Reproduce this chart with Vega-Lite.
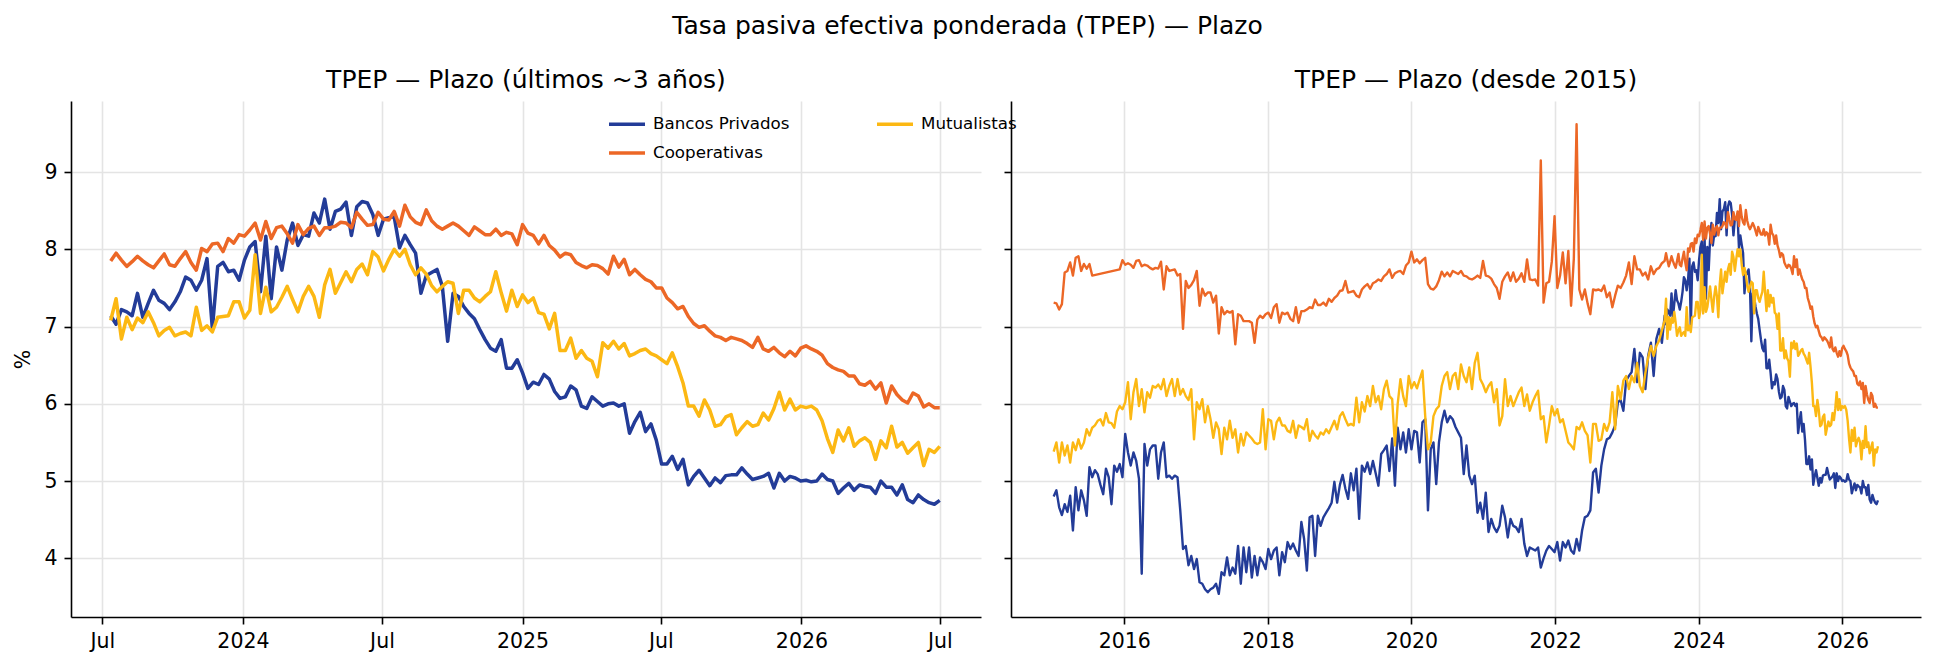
{
  "$schema": "https://vega.github.io/schema/vega-lite/v6.json",
  "description": "Tasa pasiva efectiva ponderada (TPEP) a plazo por tipo de entidad: últimos ~3 años y serie desde 2015.",
  "padding": {"left": 13, "top": 14, "right": 13, "bottom": 10},
  "background": "white",
  "title": {
    "text": "Tasa pasiva efectiva ponderada (TPEP) — Plazo",
    "anchor": "middle",
    "frame": "bounds",
    "offset": 29
  },
  "datasets": {
    "tpep": [
      {"fecha": "2015-01-07", "bp": 4.80, "co": 7.31, "mu": 5.38},
      {"fecha": "2015-01-21", "bp": 4.88, "co": 7.30, "mu": 5.50},
      {"fecha": "2015-02-04", "bp": 4.66, "co": 7.22, "mu": 5.24},
      {"fecha": "2015-02-18", "bp": 4.56, "co": 7.29, "mu": 5.50},
      {"fecha": "2015-03-04", "bp": 4.70, "co": 7.70, "mu": 5.33},
      {"fecha": "2015-03-18", "bp": 4.60, "co": 7.72, "mu": 5.46},
      {"fecha": "2015-04-01", "bp": 4.81, "co": 7.83, "mu": 5.24},
      {"fecha": "2015-04-15", "bp": 4.36, "co": 7.66, "mu": 5.50},
      {"fecha": "2015-04-29", "bp": 4.92, "co": 7.89, "mu": 5.40},
      {"fecha": "2015-05-13", "bp": 4.62, "co": 7.91, "mu": 5.54},
      {"fecha": "2015-05-27", "bp": 4.88, "co": 7.72, "mu": 5.42},
      {"fecha": "2015-06-10", "bp": 4.75, "co": 7.81, "mu": 5.50},
      {"fecha": "2015-06-24", "bp": 4.55, "co": 7.75, "mu": 5.67},
      {"fecha": "2015-07-08", "bp": 5.18, "co": 7.81, "mu": 5.59},
      {"fecha": "2015-07-22", "bp": 5.05, "co": 7.66, "mu": 5.69},
      {"fecha": "2015-08-05", "bp": 5.14, "co": null, "mu": 5.72},
      {"fecha": "2015-08-19", "bp": 5.09, "co": null, "mu": 5.78},
      {"fecha": "2015-09-02", "bp": 4.95, "co": null, "mu": 5.80},
      {"fecha": "2015-09-16", "bp": 4.83, "co": null, "mu": 5.72},
      {"fecha": "2015-09-30", "bp": 5.16, "co": null, "mu": 5.88},
      {"fecha": "2015-10-14", "bp": 5.05, "co": null, "mu": 5.76},
      {"fecha": "2015-10-28", "bp": 4.70, "co": null, "mu": 5.75},
      {"fecha": "2015-11-11", "bp": 5.20, "co": null, "mu": 5.69},
      {"fecha": "2015-11-25", "bp": 5.12, "co": null, "mu": 5.90},
      {"fecha": "2015-12-09", "bp": 5.22, "co": 7.74, "mu": 5.97},
      {"fecha": "2015-12-23", "bp": 5.05, "co": 7.86, "mu": 5.93},
      {"fecha": "2016-01-06", "bp": 5.61, "co": 7.80, "mu": 6.02},
      {"fecha": "2016-01-20", "bp": 5.37, "co": 7.82, "mu": 6.28},
      {"fecha": "2016-02-03", "bp": 5.20, "co": 7.80, "mu": 5.80},
      {"fecha": "2016-02-17", "bp": 5.37, "co": 7.76, "mu": 6.15},
      {"fecha": "2016-03-02", "bp": 5.26, "co": 7.85, "mu": 6.32},
      {"fecha": "2016-03-16", "bp": 5.03, "co": 7.86, "mu": 5.97},
      {"fecha": "2016-03-30", "bp": 3.80, "co": 7.78, "mu": 6.19},
      {"fecha": "2016-04-13", "bp": 5.48, "co": 7.80, "mu": 5.89},
      {"fecha": "2016-04-27", "bp": 5.20, "co": 7.79, "mu": 6.15},
      {"fecha": "2016-05-11", "bp": 5.41, "co": 7.76, "mu": 6.08},
      {"fecha": "2016-05-25", "bp": 5.46, "co": 7.74, "mu": 6.23},
      {"fecha": "2016-06-08", "bp": 5.46, "co": 7.76, "mu": 6.21},
      {"fecha": "2016-06-22", "bp": 5.03, "co": 7.75, "mu": 6.25},
      {"fecha": "2016-07-06", "bp": 5.37, "co": 7.84, "mu": 6.19},
      {"fecha": "2016-07-20", "bp": 5.50, "co": 7.48, "mu": 6.32},
      {"fecha": "2016-08-03", "bp": 5.05, "co": 7.78, "mu": 6.10},
      {"fecha": "2016-08-17", "bp": 5.07, "co": 7.72, "mu": 6.23},
      {"fecha": "2016-08-31", "bp": 5.03, "co": 7.73, "mu": 6.32},
      {"fecha": "2016-09-14", "bp": 5.07, "co": 7.74, "mu": 6.10},
      {"fecha": "2016-09-28", "bp": 5.05, "co": 7.66, "mu": 6.32},
      {"fecha": "2016-10-12", "bp": 4.62, "co": 7.68, "mu": 6.12},
      {"fecha": "2016-10-26", "bp": 4.12, "co": 6.97, "mu": 6.19},
      {"fecha": "2016-11-09", "bp": 4.16, "co": 7.59, "mu": 6.10},
      {"fecha": "2016-11-23", "bp": 3.91, "co": 7.50, "mu": 6.05},
      {"fecha": "2016-12-07", "bp": 4.03, "co": 7.54, "mu": 6.19},
      {"fecha": "2016-12-21", "bp": 3.86, "co": 7.60, "mu": 5.54},
      {"fecha": "2017-01-04", "bp": 3.99, "co": 7.72, "mu": 6.02},
      {"fecha": "2017-01-18", "bp": 3.69, "co": 7.27, "mu": 5.93},
      {"fecha": "2017-02-01", "bp": 3.67, "co": 7.49, "mu": 6.06},
      {"fecha": "2017-02-15", "bp": 3.60, "co": 7.40, "mu": 5.76},
      {"fecha": "2017-03-01", "bp": 3.56, "co": 7.44, "mu": 5.97},
      {"fecha": "2017-03-15", "bp": 3.60, "co": 7.44, "mu": 5.80},
      {"fecha": "2017-03-29", "bp": 3.62, "co": 7.31, "mu": 5.56},
      {"fecha": "2017-04-12", "bp": 3.67, "co": 7.40, "mu": 5.76},
      {"fecha": "2017-04-26", "bp": 3.54, "co": 6.91, "mu": 5.67},
      {"fecha": "2017-05-10", "bp": 3.82, "co": 7.25, "mu": 5.35},
      {"fecha": "2017-05-24", "bp": 3.78, "co": 7.16, "mu": 5.69},
      {"fecha": "2017-06-07", "bp": 4.01, "co": 7.20, "mu": 5.54},
      {"fecha": "2017-06-21", "bp": 3.78, "co": 7.18, "mu": 5.78},
      {"fecha": "2017-07-05", "bp": 3.88, "co": 7.20, "mu": 5.56},
      {"fecha": "2017-07-19", "bp": 3.80, "co": 6.77, "mu": 5.67},
      {"fecha": "2017-08-02", "bp": 4.16, "co": 7.16, "mu": 5.37},
      {"fecha": "2017-08-16", "bp": 3.67, "co": 7.14, "mu": 5.61},
      {"fecha": "2017-08-30", "bp": 4.14, "co": 7.07, "mu": 5.46},
      {"fecha": "2017-09-13", "bp": 3.82, "co": 7.07, "mu": 5.63},
      {"fecha": "2017-09-27", "bp": 4.14, "co": 7.07, "mu": 5.59},
      {"fecha": "2017-10-11", "bp": 3.75, "co": 7.05, "mu": 5.55},
      {"fecha": "2017-10-25", "bp": 4.03, "co": 6.79, "mu": 5.50},
      {"fecha": "2017-11-08", "bp": 3.78, "co": 7.09, "mu": 5.48},
      {"fecha": "2017-11-22", "bp": 4.01, "co": 7.14, "mu": 5.50},
      {"fecha": "2017-12-06", "bp": 3.95, "co": 7.11, "mu": 5.93},
      {"fecha": "2017-12-20", "bp": 3.86, "co": 7.16, "mu": 5.41},
      {"fecha": "2018-01-03", "bp": 4.12, "co": 7.18, "mu": 5.80},
      {"fecha": "2018-01-17", "bp": 3.99, "co": 7.11, "mu": 5.78},
      {"fecha": "2018-01-31", "bp": 4.10, "co": 7.25, "mu": 5.54},
      {"fecha": "2018-02-14", "bp": 4.14, "co": 7.29, "mu": 5.76},
      {"fecha": "2018-02-28", "bp": 3.78, "co": 7.05, "mu": 5.82},
      {"fecha": "2018-03-14", "bp": 4.08, "co": 7.18, "mu": 5.72},
      {"fecha": "2018-03-28", "bp": 3.95, "co": 7.16, "mu": 5.72},
      {"fecha": "2018-04-11", "bp": 4.21, "co": 7.18, "mu": 5.65},
      {"fecha": "2018-04-25", "bp": 4.12, "co": 7.10, "mu": 5.63},
      {"fecha": "2018-05-09", "bp": 4.19, "co": 7.07, "mu": 5.78},
      {"fecha": "2018-05-23", "bp": 4.10, "co": 7.25, "mu": 5.56},
      {"fecha": "2018-06-06", "bp": 4.03, "co": 7.05, "mu": 5.72},
      {"fecha": "2018-06-20", "bp": 4.47, "co": 7.20, "mu": 5.70},
      {"fecha": "2018-07-04", "bp": 4.25, "co": 7.20, "mu": 5.67},
      {"fecha": "2018-07-18", "bp": 3.84, "co": 7.22, "mu": 5.80},
      {"fecha": "2018-08-01", "bp": 4.53, "co": 7.25, "mu": 5.52},
      {"fecha": "2018-08-15", "bp": 4.55, "co": 7.24, "mu": 5.65},
      {"fecha": "2018-08-29", "bp": 4.03, "co": 7.35, "mu": 5.59},
      {"fecha": "2018-09-12", "bp": 4.55, "co": 7.28, "mu": 5.55},
      {"fecha": "2018-09-26", "bp": 4.42, "co": 7.28, "mu": 5.63},
      {"fecha": "2018-10-10", "bp": 4.53, "co": 7.31, "mu": 5.60},
      {"fecha": "2018-10-24", "bp": 4.59, "co": 7.27, "mu": 5.67},
      {"fecha": "2018-11-07", "bp": 4.65, "co": 7.36, "mu": 5.62},
      {"fecha": "2018-11-21", "bp": 4.72, "co": 7.32, "mu": 5.70},
      {"fecha": "2018-12-05", "bp": 4.99, "co": 7.37, "mu": 5.78},
      {"fecha": "2018-12-19", "bp": 4.72, "co": 7.40, "mu": 5.67},
      {"fecha": "2019-01-02", "bp": 4.95, "co": 7.46, "mu": 5.84},
      {"fecha": "2019-01-16", "bp": 5.08, "co": 7.47, "mu": 5.89},
      {"fecha": "2019-01-30", "bp": 4.90, "co": 7.59, "mu": 5.80},
      {"fecha": "2019-02-13", "bp": 4.77, "co": 7.44, "mu": 5.72},
      {"fecha": "2019-02-27", "bp": 5.10, "co": 7.45, "mu": 5.74},
      {"fecha": "2019-03-13", "bp": 4.88, "co": 7.46, "mu": 5.72},
      {"fecha": "2019-03-27", "bp": 5.16, "co": 7.40, "mu": 6.08},
      {"fecha": "2019-04-10", "bp": 4.51, "co": 7.38, "mu": 5.76},
      {"fecha": "2019-04-24", "bp": 5.20, "co": 7.48, "mu": 6.02},
      {"fecha": "2019-05-08", "bp": 5.12, "co": 7.52, "mu": 5.90},
      {"fecha": "2019-05-22", "bp": 5.24, "co": 7.55, "mu": 6.10},
      {"fecha": "2019-06-05", "bp": 5.09, "co": 7.49, "mu": 5.97},
      {"fecha": "2019-06-19", "bp": 5.26, "co": 7.56, "mu": 6.23},
      {"fecha": "2019-07-03", "bp": 5.10, "co": 7.58, "mu": 6.02},
      {"fecha": "2019-07-17", "bp": 4.94, "co": 7.61, "mu": 6.10},
      {"fecha": "2019-07-31", "bp": 5.35, "co": 7.59, "mu": 5.93},
      {"fecha": "2019-08-14", "bp": 5.40, "co": 7.65, "mu": 6.19},
      {"fecha": "2019-08-28", "bp": 5.46, "co": 7.68, "mu": 6.30},
      {"fecha": "2019-09-11", "bp": 5.13, "co": 7.74, "mu": 6.10},
      {"fecha": "2019-09-25", "bp": 5.55, "co": 7.63, "mu": 6.06},
      {"fecha": "2019-10-09", "bp": 4.94, "co": 7.69, "mu": 5.46},
      {"fecha": "2019-10-23", "bp": 5.69, "co": 7.71, "mu": 6.00},
      {"fecha": "2019-11-06", "bp": 5.41, "co": 7.72, "mu": 6.32},
      {"fecha": "2019-11-20", "bp": 5.63, "co": 7.68, "mu": 6.10},
      {"fecha": "2019-12-04", "bp": 5.37, "co": 7.79, "mu": 5.97},
      {"fecha": "2019-12-18", "bp": 5.67, "co": 7.83, "mu": 6.36},
      {"fecha": "2020-01-01", "bp": 5.41, "co": 7.97, "mu": 6.20},
      {"fecha": "2020-01-15", "bp": 5.65, "co": 7.83, "mu": 6.28},
      {"fecha": "2020-01-29", "bp": 5.63, "co": 7.87, "mu": 6.20},
      {"fecha": "2020-02-12", "bp": 5.24, "co": 7.82, "mu": 6.32},
      {"fecha": "2020-02-26", "bp": 5.76, "co": 7.86, "mu": 6.43},
      {"fecha": "2020-03-11", "bp": 5.80, "co": 7.89, "mu": 5.84},
      {"fecha": "2020-03-25", "bp": 4.62, "co": 7.55, "mu": 5.41},
      {"fecha": "2020-04-08", "bp": 5.41, "co": 7.49, "mu": 5.50},
      {"fecha": "2020-04-22", "bp": 5.50, "co": 7.48, "mu": 5.84},
      {"fecha": "2020-05-06", "bp": 4.96, "co": 7.52, "mu": 5.93},
      {"fecha": "2020-05-20", "bp": 5.50, "co": 7.60, "mu": 5.97},
      {"fecha": "2020-06-03", "bp": 5.76, "co": 7.71, "mu": 6.23},
      {"fecha": "2020-06-17", "bp": 5.91, "co": 7.65, "mu": 6.36},
      {"fecha": "2020-07-01", "bp": 5.76, "co": 7.70, "mu": 6.41},
      {"fecha": "2020-07-15", "bp": 5.84, "co": 7.65, "mu": 6.19},
      {"fecha": "2020-07-29", "bp": 5.80, "co": 7.72, "mu": 6.36},
      {"fecha": "2020-08-12", "bp": 5.70, "co": 7.70, "mu": 6.40},
      {"fecha": "2020-08-26", "bp": 5.63, "co": 7.68, "mu": 6.19},
      {"fecha": "2020-09-09", "bp": 5.56, "co": 7.72, "mu": 6.51},
      {"fecha": "2020-09-23", "bp": 5.09, "co": 7.66, "mu": 6.36},
      {"fecha": "2020-10-07", "bp": 5.46, "co": 7.65, "mu": 6.28},
      {"fecha": "2020-10-21", "bp": 5.07, "co": 7.62, "mu": 6.47},
      {"fecha": "2020-11-04", "bp": 4.96, "co": 7.61, "mu": 6.19},
      {"fecha": "2020-11-18", "bp": 5.07, "co": 7.63, "mu": 6.53},
      {"fecha": "2020-12-02", "bp": 4.59, "co": 7.66, "mu": 6.66},
      {"fecha": "2020-12-16", "bp": 4.72, "co": 7.63, "mu": 6.32},
      {"fecha": "2020-12-30", "bp": 4.51, "co": 7.85, "mu": 6.25},
      {"fecha": "2021-01-13", "bp": 4.85, "co": 7.66, "mu": 6.15},
      {"fecha": "2021-01-27", "bp": 4.34, "co": 7.65, "mu": 6.23},
      {"fecha": "2021-02-10", "bp": 4.51, "co": 7.62, "mu": 6.28},
      {"fecha": "2021-02-24", "bp": 4.40, "co": 7.55, "mu": 6.02},
      {"fecha": "2021-03-10", "bp": 4.34, "co": 7.50, "mu": 6.19},
      {"fecha": "2021-03-24", "bp": 4.42, "co": 7.36, "mu": 5.72},
      {"fecha": "2021-04-07", "bp": 4.68, "co": 7.58, "mu": 5.84},
      {"fecha": "2021-04-21", "bp": 4.53, "co": 7.65, "mu": 6.32},
      {"fecha": "2021-05-05", "bp": 4.27, "co": 7.70, "mu": 5.97},
      {"fecha": "2021-05-19", "bp": 4.51, "co": 7.59, "mu": 6.10},
      {"fecha": "2021-06-02", "bp": 4.42, "co": 7.70, "mu": 5.97},
      {"fecha": "2021-06-16", "bp": 4.40, "co": 7.58, "mu": 6.06},
      {"fecha": "2021-06-30", "bp": 4.34, "co": 7.62, "mu": 6.15},
      {"fecha": "2021-07-14", "bp": 4.51, "co": 7.69, "mu": 6.21},
      {"fecha": "2021-07-28", "bp": 4.19, "co": 7.58, "mu": 5.97},
      {"fecha": "2021-08-11", "bp": 4.03, "co": 7.87, "mu": 6.12},
      {"fecha": "2021-08-25", "bp": 4.14, "co": 7.61, "mu": 5.91},
      {"fecha": "2021-09-08", "bp": 4.12, "co": 7.60, "mu": 6.02},
      {"fecha": "2021-09-22", "bp": 4.10, "co": 7.61, "mu": 6.10},
      {"fecha": "2021-10-06", "bp": 4.14, "co": 7.53, "mu": 6.17},
      {"fecha": "2021-10-20", "bp": 3.88, "co": 9.15, "mu": 5.80},
      {"fecha": "2021-11-03", "bp": 4.00, "co": 7.31, "mu": 5.84},
      {"fecha": "2021-11-17", "bp": 4.10, "co": 7.56, "mu": 5.50},
      {"fecha": "2021-12-01", "bp": 4.16, "co": 7.58, "mu": 5.72},
      {"fecha": "2021-12-15", "bp": 4.12, "co": 7.84, "mu": 5.97},
      {"fecha": "2021-12-29", "bp": 4.08, "co": 8.43, "mu": 5.85},
      {"fecha": "2022-01-12", "bp": 4.21, "co": 7.50, "mu": 5.93},
      {"fecha": "2022-01-26", "bp": 3.97, "co": 7.66, "mu": 5.76},
      {"fecha": "2022-02-09", "bp": 4.21, "co": 7.96, "mu": 5.80},
      {"fecha": "2022-02-23", "bp": 4.14, "co": 7.56, "mu": 5.65},
      {"fecha": "2022-03-09", "bp": 4.23, "co": 7.98, "mu": 5.50},
      {"fecha": "2022-03-23", "bp": 4.10, "co": 7.27, "mu": 5.46},
      {"fecha": "2022-04-06", "bp": 4.06, "co": 7.88, "mu": 5.41},
      {"fecha": "2022-04-20", "bp": 4.25, "co": 9.62, "mu": 5.70},
      {"fecha": "2022-05-04", "bp": 4.10, "co": 7.48, "mu": 5.67},
      {"fecha": "2022-05-18", "bp": 4.36, "co": 7.35, "mu": 5.76},
      {"fecha": "2022-06-01", "bp": 4.53, "co": 7.48, "mu": 5.65},
      {"fecha": "2022-06-15", "bp": 4.55, "co": 7.30, "mu": 5.59},
      {"fecha": "2022-06-29", "bp": 4.62, "co": 7.16, "mu": 5.24},
      {"fecha": "2022-07-13", "bp": 5.11, "co": 7.48, "mu": 5.74},
      {"fecha": "2022-07-27", "bp": 5.16, "co": 7.47, "mu": 5.74},
      {"fecha": "2022-08-10", "bp": 4.85, "co": 7.48, "mu": 5.52},
      {"fecha": "2022-08-24", "bp": 5.20, "co": 7.46, "mu": 5.54},
      {"fecha": "2022-09-07", "bp": 5.41, "co": 7.53, "mu": 5.74},
      {"fecha": "2022-09-21", "bp": 5.54, "co": 7.38, "mu": 5.65},
      {"fecha": "2022-10-05", "bp": 5.56, "co": 7.44, "mu": 5.76},
      {"fecha": "2022-10-19", "bp": 5.63, "co": 7.25, "mu": 6.15},
      {"fecha": "2022-11-02", "bp": 5.72, "co": 7.40, "mu": 5.67},
      {"fecha": "2022-11-16", "bp": 6.02, "co": 7.53, "mu": 6.23},
      {"fecha": "2022-11-30", "bp": 6.05, "co": 7.50, "mu": 6.06},
      {"fecha": "2022-12-14", "bp": 5.91, "co": 7.57, "mu": 6.30},
      {"fecha": "2022-12-28", "bp": 6.30, "co": 7.66, "mu": 6.36},
      {"fecha": "2023-01-11", "bp": 6.36, "co": 7.83, "mu": 6.19},
      {"fecha": "2023-01-25", "bp": 6.41, "co": 7.55, "mu": 6.36},
      {"fecha": "2023-02-08", "bp": 6.71, "co": 7.91, "mu": 6.28},
      {"fecha": "2023-02-22", "bp": 6.28, "co": 7.74, "mu": 6.53},
      {"fecha": "2023-03-08", "bp": 6.66, "co": 7.74, "mu": 6.23},
      {"fecha": "2023-03-22", "bp": 6.60, "co": 7.66, "mu": 6.15},
      {"fecha": "2023-04-05", "bp": 6.19, "co": 7.70, "mu": 6.40},
      {"fecha": "2023-04-19", "bp": 6.62, "co": 7.61, "mu": 6.60},
      {"fecha": "2023-05-03", "bp": 6.79, "co": 7.78, "mu": 6.75},
      {"fecha": "2023-05-17", "bp": 6.36, "co": 7.68, "mu": 6.62},
      {"fecha": "2023-05-31", "bp": 6.84, "co": 7.74, "mu": 6.75},
      {"fecha": "2023-06-14", "bp": 6.97, "co": 7.76, "mu": 6.82},
      {"fecha": "2023-06-28", "bp": 6.79, "co": 7.82, "mu": 6.95},
      {"fecha": "2023-07-12", "bp": 7.14, "co": 7.85, "mu": 7.08},
      {"fecha": "2023-07-19", "bp": 7.03, "co": 7.95, "mu": 7.36},
      {"fecha": "2023-07-26", "bp": 7.22, "co": 7.86, "mu": 6.84},
      {"fecha": "2023-08-02", "bp": 7.19, "co": 7.78, "mu": 7.12},
      {"fecha": "2023-08-09", "bp": 7.14, "co": 7.84, "mu": 6.96},
      {"fecha": "2023-08-16", "bp": 7.43, "co": 7.91, "mu": 7.11},
      {"fecha": "2023-08-23", "bp": 7.12, "co": 7.85, "mu": 7.05},
      {"fecha": "2023-08-30", "bp": 7.30, "co": 7.80, "mu": 7.19},
      {"fecha": "2023-09-06", "bp": 7.47, "co": 7.76, "mu": 7.05},
      {"fecha": "2023-09-13", "bp": 7.34, "co": 7.85, "mu": 6.88},
      {"fecha": "2023-09-20", "bp": 7.30, "co": 7.94, "mu": 6.95},
      {"fecha": "2023-09-27", "bp": 7.22, "co": 7.80, "mu": 6.99},
      {"fecha": "2023-10-04", "bp": 7.32, "co": 7.78, "mu": 6.88},
      {"fecha": "2023-10-11", "bp": 7.45, "co": 7.88, "mu": 6.91},
      {"fecha": "2023-10-18", "bp": 7.64, "co": 7.97, "mu": 6.93},
      {"fecha": "2023-10-25", "bp": 7.60, "co": 7.83, "mu": 6.88},
      {"fecha": "2023-11-01", "bp": 7.47, "co": 7.73, "mu": 7.25},
      {"fecha": "2023-11-08", "bp": 7.60, "co": 8.01, "mu": 6.95},
      {"fecha": "2023-11-15", "bp": 7.88, "co": 7.97, "mu": 7.01},
      {"fecha": "2023-11-22", "bp": 6.97, "co": 8.07, "mu": 6.93},
      {"fecha": "2023-11-29", "bp": 7.78, "co": 8.08, "mu": 7.12},
      {"fecha": "2023-12-06", "bp": 7.83, "co": 7.97, "mu": 7.13},
      {"fecha": "2023-12-13", "bp": 7.71, "co": 8.14, "mu": 7.14},
      {"fecha": "2023-12-20", "bp": 7.73, "co": 8.08, "mu": 7.32},
      {"fecha": "2023-12-27", "bp": 7.60, "co": 8.19, "mu": 7.32},
      {"fecha": "2024-01-03", "bp": 7.86, "co": 8.17, "mu": 7.11},
      {"fecha": "2024-01-10", "bp": 8.03, "co": 8.25, "mu": 7.21},
      {"fecha": "2024-01-17", "bp": 8.10, "co": 8.34, "mu": 7.93},
      {"fecha": "2024-01-24", "bp": 7.45, "co": 8.12, "mu": 7.17},
      {"fecha": "2024-01-31", "bp": 8.17, "co": 8.36, "mu": 7.51},
      {"fecha": "2024-02-07", "bp": 7.36, "co": 8.14, "mu": 7.19},
      {"fecha": "2024-02-14", "bp": 8.03, "co": 8.28, "mu": 7.25},
      {"fecha": "2024-02-21", "bp": 7.73, "co": 8.30, "mu": 7.38},
      {"fecha": "2024-02-28", "bp": 8.12, "co": 8.20, "mu": 7.52},
      {"fecha": "2024-03-06", "bp": 8.34, "co": 8.08, "mu": 7.35},
      {"fecha": "2024-03-13", "bp": 8.05, "co": 8.32, "mu": 7.19},
      {"fecha": "2024-03-20", "bp": 8.19, "co": 8.19, "mu": 7.39},
      {"fecha": "2024-03-27", "bp": 8.17, "co": 8.27, "mu": 7.52},
      {"fecha": "2024-04-03", "bp": 8.47, "co": 8.30, "mu": 7.39},
      {"fecha": "2024-04-10", "bp": 8.34, "co": 8.18, "mu": 7.12},
      {"fecha": "2024-04-17", "bp": 8.65, "co": 8.28, "mu": 7.54},
      {"fecha": "2024-04-24", "bp": 8.26, "co": 8.28, "mu": 7.74},
      {"fecha": "2024-05-01", "bp": 8.49, "co": 8.30, "mu": 7.43},
      {"fecha": "2024-05-08", "bp": 8.52, "co": 8.35, "mu": 7.57},
      {"fecha": "2024-05-15", "bp": 8.61, "co": 8.34, "mu": 7.71},
      {"fecha": "2024-05-22", "bp": 8.18, "co": 8.28, "mu": 7.58},
      {"fecha": "2024-05-29", "bp": 8.55, "co": 8.48, "mu": 7.74},
      {"fecha": "2024-06-05", "bp": 8.62, "co": 8.39, "mu": 7.81},
      {"fecha": "2024-06-12", "bp": 8.60, "co": 8.31, "mu": 7.67},
      {"fecha": "2024-06-19", "bp": 8.45, "co": 8.32, "mu": 7.97},
      {"fecha": "2024-06-26", "bp": 8.18, "co": 8.48, "mu": 7.90},
      {"fecha": "2024-07-03", "bp": 8.39, "co": 8.39, "mu": 7.72},
      {"fecha": "2024-07-10", "bp": 8.41, "co": 8.38, "mu": 7.87},
      {"fecha": "2024-07-17", "bp": 8.42, "co": 8.49, "mu": 8.00},
      {"fecha": "2024-07-24", "bp": 8.02, "co": 8.30, "mu": 7.91},
      {"fecha": "2024-07-31", "bp": 8.18, "co": 8.57, "mu": 8.00},
      {"fecha": "2024-08-07", "bp": 8.06, "co": 8.42, "mu": 7.80},
      {"fecha": "2024-08-14", "bp": 7.95, "co": 8.35, "mu": 7.67},
      {"fecha": "2024-08-21", "bp": 7.43, "co": 8.32, "mu": 7.76},
      {"fecha": "2024-08-28", "bp": 7.66, "co": 8.51, "mu": 7.68},
      {"fecha": "2024-09-04", "bp": 7.70, "co": 8.37, "mu": 7.53},
      {"fecha": "2024-09-11", "bp": 7.74, "co": 8.30, "mu": 7.45},
      {"fecha": "2024-09-18", "bp": 7.52, "co": 8.26, "mu": 7.52},
      {"fecha": "2024-09-25", "bp": 6.81, "co": 8.30, "mu": 7.58},
      {"fecha": "2024-10-02", "bp": 7.43, "co": 8.34, "mu": 7.56},
      {"fecha": "2024-10-09", "bp": 7.39, "co": 8.30, "mu": 7.17},
      {"fecha": "2024-10-16", "bp": 7.26, "co": 8.24, "mu": 7.47},
      {"fecha": "2024-10-23", "bp": 7.17, "co": 8.18, "mu": 7.47},
      {"fecha": "2024-10-30", "bp": 7.10, "co": 8.29, "mu": 7.37},
      {"fecha": "2024-11-06", "bp": 6.96, "co": 8.24, "mu": 7.32},
      {"fecha": "2024-11-13", "bp": 6.83, "co": 8.19, "mu": 7.39},
      {"fecha": "2024-11-20", "bp": 6.72, "co": 8.19, "mu": 7.45},
      {"fecha": "2024-11-27", "bp": 6.68, "co": 8.26, "mu": 7.71},
      {"fecha": "2024-12-04", "bp": 6.83, "co": 8.18, "mu": 7.44},
      {"fecha": "2024-12-11", "bp": 6.46, "co": 8.22, "mu": 7.20},
      {"fecha": "2024-12-18", "bp": 6.46, "co": 8.20, "mu": 7.47},
      {"fecha": "2024-12-25", "bp": 6.57, "co": 8.06, "mu": 7.26},
      {"fecha": "2025-01-01", "bp": 6.40, "co": 8.32, "mu": 7.41},
      {"fecha": "2025-01-08", "bp": 6.20, "co": 8.21, "mu": 7.31},
      {"fecha": "2025-01-15", "bp": 6.28, "co": 8.18, "mu": 7.37},
      {"fecha": "2025-01-22", "bp": 6.25, "co": 8.07, "mu": 7.18},
      {"fecha": "2025-01-29", "bp": 6.38, "co": 8.18, "mu": 7.16},
      {"fecha": "2025-02-05", "bp": 6.32, "co": 8.05, "mu": 6.97},
      {"fecha": "2025-02-12", "bp": 6.16, "co": 7.99, "mu": 7.17},
      {"fecha": "2025-02-19", "bp": 6.07, "co": 7.90, "mu": 6.69},
      {"fecha": "2025-02-26", "bp": 6.09, "co": 7.95, "mu": 6.69},
      {"fecha": "2025-03-05", "bp": 6.23, "co": 7.93, "mu": 6.85},
      {"fecha": "2025-03-12", "bp": 6.18, "co": 7.83, "mu": 6.59},
      {"fecha": "2025-03-19", "bp": 5.97, "co": 7.79, "mu": 6.69},
      {"fecha": "2025-03-26", "bp": 5.94, "co": 7.76, "mu": 6.59},
      {"fecha": "2025-04-02", "bp": 6.09, "co": 7.80, "mu": 6.55},
      {"fecha": "2025-04-09", "bp": 6.03, "co": 7.79, "mu": 6.35},
      {"fecha": "2025-04-16", "bp": 5.97, "co": 7.75, "mu": 6.79},
      {"fecha": "2025-04-23", "bp": 6.00, "co": 7.68, "mu": 6.72},
      {"fecha": "2025-04-30", "bp": 6.01, "co": 7.91, "mu": 6.81},
      {"fecha": "2025-05-07", "bp": 5.97, "co": 7.77, "mu": 6.71},
      {"fecha": "2025-05-14", "bp": 6.00, "co": 7.87, "mu": 6.78},
      {"fecha": "2025-05-21", "bp": 5.62, "co": 7.67, "mu": 6.62},
      {"fecha": "2025-05-28", "bp": 5.77, "co": 7.74, "mu": 6.65},
      {"fecha": "2025-06-04", "bp": 5.89, "co": 7.67, "mu": 6.69},
      {"fecha": "2025-06-11", "bp": 5.64, "co": 7.61, "mu": 6.71},
      {"fecha": "2025-06-18", "bp": 5.74, "co": 7.58, "mu": 6.65},
      {"fecha": "2025-06-25", "bp": 5.53, "co": 7.50, "mu": 6.62},
      {"fecha": "2025-07-02", "bp": 5.22, "co": 7.50, "mu": 6.57},
      {"fecha": "2025-07-09", "bp": 5.22, "co": 7.37, "mu": 6.52},
      {"fecha": "2025-07-16", "bp": 5.32, "co": 7.31, "mu": 6.66},
      {"fecha": "2025-07-23", "bp": 5.15, "co": 7.23, "mu": 6.48},
      {"fecha": "2025-07-30", "bp": 5.28, "co": 7.26, "mu": 6.27},
      {"fecha": "2025-08-06", "bp": 4.95, "co": 7.13, "mu": 5.97},
      {"fecha": "2025-08-13", "bp": 5.06, "co": 7.04, "mu": 5.97},
      {"fecha": "2025-08-20", "bp": 5.14, "co": 6.99, "mu": 5.84},
      {"fecha": "2025-08-27", "bp": 5.04, "co": 7.01, "mu": 6.05},
      {"fecha": "2025-09-03", "bp": 4.94, "co": 6.94, "mu": 5.92},
      {"fecha": "2025-09-10", "bp": 5.04, "co": 6.88, "mu": 5.71},
      {"fecha": "2025-09-17", "bp": 4.98, "co": 6.86, "mu": 5.73},
      {"fecha": "2025-09-24", "bp": 5.07, "co": 6.82, "mu": 5.83},
      {"fecha": "2025-10-01", "bp": 5.08, "co": 6.86, "mu": 5.86},
      {"fecha": "2025-10-08", "bp": 5.08, "co": 6.84, "mu": 5.60},
      {"fecha": "2025-10-15", "bp": 5.17, "co": 6.82, "mu": 5.69},
      {"fecha": "2025-10-22", "bp": 5.09, "co": 6.78, "mu": 5.77},
      {"fecha": "2025-10-29", "bp": 5.02, "co": 6.73, "mu": 5.71},
      {"fecha": "2025-11-05", "bp": 5.04, "co": 6.86, "mu": 5.73},
      {"fecha": "2025-11-12", "bp": 5.06, "co": 6.71, "mu": 5.88},
      {"fecha": "2025-11-19", "bp": 5.10, "co": 6.68, "mu": 5.79},
      {"fecha": "2025-11-26", "bp": 4.91, "co": 6.73, "mu": 5.94},
      {"fecha": "2025-12-03", "bp": 5.10, "co": 6.66, "mu": 6.15},
      {"fecha": "2025-12-10", "bp": 5.00, "co": 6.61, "mu": 5.92},
      {"fecha": "2025-12-17", "bp": 5.06, "co": 6.68, "mu": 6.06},
      {"fecha": "2025-12-24", "bp": 5.04, "co": 6.62, "mu": 5.92},
      {"fecha": "2025-12-31", "bp": 5.00, "co": 6.72, "mu": 5.97},
      {"fecha": "2026-01-07", "bp": 5.01, "co": 6.75, "mu": 5.95},
      {"fecha": "2026-01-14", "bp": 4.99, "co": 6.71, "mu": 5.97},
      {"fecha": "2026-01-21", "bp": 5.00, "co": 6.68, "mu": 5.92},
      {"fecha": "2026-01-28", "bp": 5.09, "co": 6.63, "mu": 5.78},
      {"fecha": "2026-02-04", "bp": 5.02, "co": 6.52, "mu": 5.55},
      {"fecha": "2026-02-11", "bp": 5.00, "co": 6.47, "mu": 5.37},
      {"fecha": "2026-02-18", "bp": 4.84, "co": 6.44, "mu": 5.66},
      {"fecha": "2026-02-25", "bp": 4.91, "co": 6.42, "mu": 5.52},
      {"fecha": "2026-03-04", "bp": 4.97, "co": 6.36, "mu": 5.69},
      {"fecha": "2026-03-11", "bp": 4.88, "co": 6.36, "mu": 5.45},
      {"fecha": "2026-03-18", "bp": 4.95, "co": 6.26, "mu": 5.52},
      {"fecha": "2026-03-25", "bp": 4.93, "co": 6.24, "mu": 5.56},
      {"fecha": "2026-04-01", "bp": 4.92, "co": 6.29, "mu": 5.50},
      {"fecha": "2026-04-08", "bp": 4.84, "co": 6.19, "mu": 5.28},
      {"fecha": "2026-04-15", "bp": 5.00, "co": 6.27, "mu": 5.52},
      {"fecha": "2026-04-22", "bp": 4.92, "co": 6.01, "mu": 5.43},
      {"fecha": "2026-04-29", "bp": 4.92, "co": 6.23, "mu": 5.71},
      {"fecha": "2026-05-06", "bp": 4.82, "co": 6.12, "mu": 5.44},
      {"fecha": "2026-05-13", "bp": 4.95, "co": 6.05, "mu": 5.50},
      {"fecha": "2026-05-20", "bp": 4.76, "co": 6.01, "mu": 5.36},
      {"fecha": "2026-05-27", "bp": 4.72, "co": 6.14, "mu": 5.43},
      {"fecha": "2026-06-03", "bp": 4.82, "co": 6.10, "mu": 5.50},
      {"fecha": "2026-06-10", "bp": 4.76, "co": 5.96, "mu": 5.20},
      {"fecha": "2026-06-17", "bp": 4.72, "co": 6.00, "mu": 5.41},
      {"fecha": "2026-06-24", "bp": 4.70, "co": 5.95, "mu": 5.37},
      {"fecha": "2026-07-01", "bp": 4.75, "co": 5.95, "mu": 5.45}
    ]
  },
  "data": {"name": "tpep", "format": {"parse": {"fecha": "date"}}},
  "transform": [
    {"fold": ["bp", "co", "mu"], "as": ["clave", "tasa"]},
    {"filter": "isValid(datum.tasa)"},
    {"calculate": "datum.clave === 'bp' ? 'Bancos Privados' : datum.clave === 'co' ? 'Cooperativas' : 'Mutualistas'", "as": "serie"}
  ],
  "bounds": "flush",
  "spacing": 30,
  "hconcat": [
    {
      "width": 910,
      "height": 516,
      "title": {"text": "TPEP — Plazo (últimos ~3 años)"},
      "transform": [{"filter": "datum.fecha >= utc(2023, 6, 1)"}],
      "mark": {"type": "line", "strokeWidth": 3.5, "strokeJoin": "round"},
      "encoding": {
        "x": {
          "field": "fecha",
          "type": "temporal",
          "scale": {
            "type": "utc",
            "domain": [
              {"year": 2023, "month": 5, "date": 21, "utc": true},
              {"year": 2026, "month": 8, "date": 24, "utc": true}
            ]
          },
          "axis": {
            "title": null,
            "tickCount": {"interval": "month", "step": 6},
            "labelExpr": "utcFormat(datum.value, '%m') == '01' ? utcFormat(datum.value, '%Y') : utcFormat(datum.value, '%b')"
          }
        },
        "y": {
          "field": "tasa",
          "type": "quantitative",
          "scale": {"domain": [3.24, 9.92], "nice": false, "zero": false},
          "axis": {"title": "%", "values": [4, 5, 6, 7, 8, 9]}
        },
        "color": {
          "field": "serie",
          "type": "nominal",
          "scale": {
            "domain": ["Bancos Privados", "Cooperativas", "Mutualistas"],
            "range": ["#233c98", "#ec6726", "#fcb813"]
          },
          "legend": {
            "title": null,
            "orient": "none",
            "legendX": 536,
            "legendY": 3,
            "columns": 2,
            "columnPadding": 80,
            "rowPadding": -2,
            "padding": 0,
            "symbolType": "stroke",
            "symbolSize": 1296,
            "symbolStrokeWidth": 3.5,
            "labelFontSize": 16.7,
            "labelOffset": 6,
            "labelColor": "#000000",
            "labelLimit": 0
          }
        }
      }
    },
    {
      "width": 910,
      "height": 516,
      "title": {"text": "TPEP — Plazo (desde 2015)"},
      "mark": {"type": "line", "strokeWidth": 2.4, "strokeJoin": "round"},
      "encoding": {
        "x": {
          "field": "fecha",
          "type": "temporal",
          "scale": {
            "type": "utc",
            "domain": [
              {"year": 2014, "month": 6, "date": 4, "utc": true},
              {"year": 2027, "month": 2, "date": 5, "utc": true}
            ]
          },
          "axis": {
            "title": null,
            "tickCount": {"interval": "year", "step": 2},
            "labelExpr": "utcFormat(datum.value, '%Y')"
          }
        },
        "y": {
          "field": "tasa",
          "type": "quantitative",
          "scale": {"domain": [3.24, 9.92], "nice": false, "zero": false},
          "axis": {"title": null, "labels": false, "values": [4, 5, 6, 7, 8, 9]}
        },
        "color": {
          "field": "serie",
          "type": "nominal",
          "scale": {
            "domain": ["Bancos Privados", "Cooperativas", "Mutualistas"],
            "range": ["#233c98", "#ec6726", "#fcb813"]
          },
          "legend": null
        }
      }
    }
  ],
  "resolve": {
    "scale": {"x": "independent", "y": "independent", "color": "independent"},
    "legend": {"color": "independent"}
  },
  "config": {
    "font": "DejaVu Sans",
    "view": {"stroke": null},
    "title": {
      "fontSize": 25,
      "fontWeight": "normal",
      "color": "#000000",
      "baseline": "alphabetic",
      "offset": 8
    },
    "axis": {
      "domainColor": "#000000",
      "domainWidth": 1.6,
      "tickColor": "#000000",
      "tickWidth": 1.6,
      "tickSize": 7,
      "labelColor": "#000000",
      "labelFontSize": 20.5,
      "labelPadding": 7,
      "labelFlush": false,
      "gridColor": "#e4e4e4",
      "gridWidth": 1.6,
      "titleColor": "#000000",
      "titleFontSize": 20.5,
      "titleFontWeight": "normal",
      "titlePadding": 10
    },
    "axisX": {"labelOverlap": false}
  }
}
